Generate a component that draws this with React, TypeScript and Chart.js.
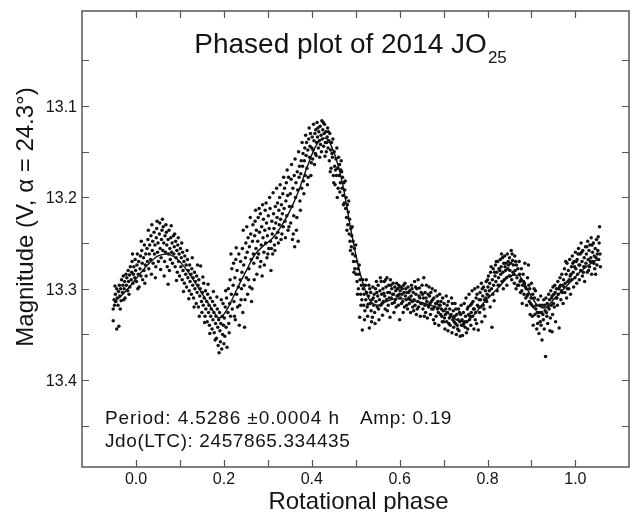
import React, { useEffect, useRef } from "react";
import { Chart, registerables } from "chart.js";

Chart.register(...registerables);

// ---- axis ticks ----
const xLabelValues = [0.0, 0.2, 0.4, 0.6, 0.8, 1.0];
const xTickValues = [0.0, 0.1, 0.2, 0.3, 0.4, 0.5, 0.6, 0.7, 0.8, 0.9, 1.0];
const yLabelValues = [13.1, 13.2, 13.3, 13.4];
const yTickValues = [13.05, 13.1, 13.15, 13.2, 13.25, 13.3, 13.35, 13.4, 13.45];

// ---- texts ----
const titleMain = "Phased plot of 2014 JO";
const titleSub = "25";
const periodText = "Period: 4.5286 ±0.0004 h";
const ampText = "Amp: 0.19";
const jdoText = "Jdo(LTC): 2457865.334435";
const xTitle = "Rotational phase";
const yTitle = "Magnitude (V, α = 24.3°)";

// ---- fitted curve ----
const fitPhase = [-0.05, -0.03, -0.01, 0.01, 0.03, 0.05, 0.07, 0.09, 0.11, 0.13, 0.15, 0.17, 0.19, 0.21, 0.23, 0.25, 0.27, 0.29, 0.31, 0.33, 0.35, 0.37, 0.39, 0.41, 0.43, 0.45, 0.47, 0.49, 0.51, 0.53, 0.55, 0.57, 0.59, 0.61, 0.63, 0.65, 0.67, 0.69, 0.71, 0.73, 0.75, 0.77, 0.79, 0.81, 0.83, 0.85, 0.87, 0.89, 0.91, 0.93, 0.95, 0.97, 0.99, 1.01, 1.03, 1.05];
const fitMag = [13.315, 13.306, 13.295, 13.283, 13.272, 13.264, 13.262, 13.266, 13.276, 13.29, 13.305, 13.32, 13.332, 13.32, 13.3, 13.281, 13.263, 13.253, 13.245, 13.232, 13.215, 13.193, 13.166, 13.143, 13.135, 13.15, 13.185, 13.238, 13.283, 13.311, 13.318, 13.314, 13.311, 13.311, 13.313, 13.315, 13.318, 13.321, 13.327, 13.334, 13.336, 13.328, 13.316, 13.306, 13.296, 13.286, 13.285, 13.3, 13.316, 13.321, 13.312, 13.302, 13.292, 13.282, 13.274, 13.268];

// ---- observations [phase, magnitude] ----
const obsA: [number, number][] = [[-0.052, 13.322], [-0.052, 13.335], [-0.05, 13.312], [-0.049, 13.318], [-0.047, 13.306], [-0.046, 13.314], [-0.044, 13.344], [-0.044, 13.3], [-0.043, 13.31], [-0.041, 13.318], [-0.04, 13.303], [-0.039, 13.341], [-0.038, 13.296], [-0.037, 13.308], [-0.035, 13.3], [-0.034, 13.313], [-0.033, 13.29], [-0.031, 13.304], [-0.03, 13.296], [-0.029, 13.286], [-0.027, 13.3], [-0.026, 13.292], [-0.025, 13.31], [-0.023, 13.284], [-0.022, 13.296], [-0.021, 13.288], [-0.019, 13.302], [-0.018, 13.28], [-0.017, 13.292], [-0.015, 13.285], [-0.014, 13.298], [-0.013, 13.276], [-0.011, 13.29], [-0.01, 13.282], [-0.009, 13.27], [-0.007, 13.294], [-0.006, 13.284], [-0.005, 13.276], [-0.003, 13.288], [-0.002, 13.268], [-0.001, 13.28]];

const obsB: [number, number][] = [[0.001, 13.292], [0.002, 13.274], [0.003, 13.262], [0.005, 13.284], [0.006, 13.27], [0.007, 13.298], [0.009, 13.278], [0.01, 13.264], [0.011, 13.286], [0.013, 13.258], [0.014, 13.272], [0.015, 13.29], [0.017, 13.266], [0.018, 13.28], [0.019, 13.252], [0.021, 13.274], [0.022, 13.262], [0.023, 13.286], [0.025, 13.256], [0.026, 13.27], [0.027, 13.246], [0.029, 13.278], [0.03, 13.262], [0.031, 13.252], [0.033, 13.268], [0.034, 13.242], [0.035, 13.284], [0.037, 13.258], [0.038, 13.248], [0.039, 13.272], [0.041, 13.238], [0.042, 13.262], [0.043, 13.252], [0.045, 13.276], [0.046, 13.244], [0.047, 13.234], [0.049, 13.26], [0.05, 13.25], [0.051, 13.27], [0.053, 13.24], [0.054, 13.228], [0.055, 13.256], [0.057, 13.266], [0.058, 13.246], [0.059, 13.236], [0.061, 13.258], [0.062, 13.232], [0.063, 13.25], [0.065, 13.27], [0.066, 13.242], [0.067, 13.26], [0.069, 13.238], [0.07, 13.252], [0.071, 13.276], [0.073, 13.295], [0.073, 13.246], [0.074, 13.262], [0.075, 13.236], [0.077, 13.256], [0.078, 13.268], [0.079, 13.244], [0.081, 13.26], [0.082, 13.25], [0.083, 13.272], [0.085, 13.242], [0.086, 13.262], [0.087, 13.254], [0.089, 13.276], [0.09, 13.248], [0.091, 13.266], [0.093, 13.258], [0.094, 13.282], [0.095, 13.252], [0.097, 13.27], [0.098, 13.262], [0.099, 13.286]];

const obsC: [number, number][] = [[0.101, 13.256], [0.102, 13.276], [0.103, 13.266], [0.105, 13.29], [0.106, 13.26], [0.107, 13.28], [0.109, 13.27], [0.11, 13.294], [0.111, 13.264], [0.113, 13.284], [0.114, 13.274], [0.115, 13.298], [0.117, 13.268], [0.118, 13.288], [0.119, 13.28], [0.121, 13.302], [0.122, 13.274], [0.123, 13.292], [0.125, 13.284], [0.126, 13.306], [0.127, 13.278], [0.129, 13.296], [0.13, 13.288], [0.131, 13.31], [0.133, 13.282], [0.134, 13.3], [0.135, 13.292], [0.137, 13.316], [0.138, 13.286], [0.139, 13.304], [0.141, 13.296], [0.142, 13.32], [0.143, 13.29], [0.145, 13.308], [0.146, 13.3], [0.147, 13.275], [0.149, 13.314], [0.15, 13.326], [0.151, 13.304], [0.153, 13.318], [0.154, 13.294], [0.155, 13.31], [0.157, 13.33], [0.158, 13.302], [0.159, 13.322], [0.161, 13.314], [0.162, 13.336], [0.163, 13.306], [0.165, 13.326], [0.166, 13.318], [0.167, 13.34], [0.169, 13.31], [0.17, 13.33], [0.171, 13.322], [0.173, 13.344], [0.174, 13.314], [0.175, 13.334], [0.177, 13.326], [0.178, 13.348], [0.179, 13.318], [0.181, 13.338], [0.182, 13.33], [0.183, 13.354], [0.185, 13.322], [0.186, 13.342], [0.187, 13.362], [0.188, 13.334], [0.189, 13.37], [0.19, 13.326], [0.191, 13.346], [0.192, 13.358], [0.193, 13.338], [0.195, 13.366], [0.196, 13.33], [0.197, 13.35], [0.198, 13.316], [0.199, 13.34]];

const obsD: [number, number][] = [[0.201, 13.332], [0.202, 13.352], [0.203, 13.32], [0.205, 13.342], [0.206, 13.31], [0.207, 13.364], [0.209, 13.326], [0.21, 13.3], [0.211, 13.338], [0.213, 13.316], [0.214, 13.29], [0.215, 13.33], [0.217, 13.306], [0.218, 13.278], [0.219, 13.322], [0.221, 13.296], [0.222, 13.272], [0.223, 13.314], [0.225, 13.288], [0.226, 13.334], [0.227, 13.268], [0.229, 13.306], [0.23, 13.28], [0.231, 13.32], [0.233, 13.298], [0.234, 13.262], [0.235, 13.34], [0.237, 13.29], [0.238, 13.27], [0.239, 13.312], [0.241, 13.282], [0.242, 13.256], [0.243, 13.326], [0.245, 13.274], [0.246, 13.296], [0.247, 13.342], [0.249, 13.266], [0.25, 13.25], [0.251, 13.288], [0.253, 13.26], [0.254, 13.306], [0.255, 13.244], [0.257, 13.278], [0.258, 13.254], [0.259, 13.298], [0.261, 13.24], [0.262, 13.268], [0.263, 13.314], [0.265, 13.248], [0.266, 13.23], [0.267, 13.262], [0.269, 13.29], [0.27, 13.242], [0.271, 13.226], [0.273, 13.256], [0.274, 13.236], [0.275, 13.284], [0.277, 13.248], [0.278, 13.222], [0.279, 13.262], [0.281, 13.238], [0.282, 13.276], [0.283, 13.218], [0.285, 13.252], [0.286, 13.232], [0.287, 13.286], [0.289, 13.244], [0.29, 13.224], [0.291, 13.26], [0.293, 13.236], [0.294, 13.214], [0.295, 13.25], [0.297, 13.228], [0.298, 13.266], [0.299, 13.242], [0.301, 13.22], [0.302, 13.256], [0.303, 13.234], [0.305, 13.212], [0.306, 13.248], [0.307, 13.28], [0.309, 13.226], [0.31, 13.24], [0.311, 13.262], [0.313, 13.218], [0.314, 13.234], [0.315, 13.252], [0.317, 13.21], [0.318, 13.228], [0.319, 13.244], [0.321, 13.222], [0.322, 13.206], [0.323, 13.238], [0.325, 13.214], [0.326, 13.23], [0.327, 13.2], [0.329, 13.224], [0.33, 13.246], [0.331, 13.208], [0.333, 13.218], [0.334, 13.196], [0.335, 13.232], [0.337, 13.212], [0.338, 13.19], [0.339, 13.226], [0.341, 13.204], [0.342, 13.184], [0.343, 13.22], [0.345, 13.198], [0.346, 13.236], [0.347, 13.178], [0.349, 13.21]];

const obsE: [number, number][] = [[0.351, 13.196], [0.352, 13.228], [0.353, 13.18], [0.355, 13.21], [0.356, 13.246], [0.357, 13.19], [0.359, 13.22], [0.36, 13.176], [0.361, 13.254], [0.363, 13.2], [0.364, 13.184], [0.365, 13.236], [0.367, 13.172], [0.368, 13.192], [0.369, 13.248], [0.371, 13.178], [0.372, 13.166], [0.373, 13.204], [0.375, 13.174], [0.376, 13.16], [0.377, 13.19], [0.379, 13.166], [0.38, 13.152], [0.381, 13.182], [0.383, 13.16], [0.384, 13.146], [0.385, 13.176], [0.387, 13.154], [0.388, 13.14], [0.389, 13.168], [0.391, 13.148], [0.392, 13.178], [0.393, 13.136], [0.395, 13.156], [0.396, 13.144], [0.397, 13.13], [0.399, 13.162], [0.4, 13.146], [0.401, 13.134], [0.403, 13.148], [0.404, 13.12], [0.405, 13.138], [0.407, 13.13], [0.408, 13.152], [0.409, 13.126], [0.411, 13.14], [0.412, 13.118], [0.413, 13.134], [0.415, 13.146], [0.416, 13.128], [0.417, 13.138], [0.419, 13.122], [0.42, 13.142], [0.421, 13.132], [0.423, 13.116], [0.424, 13.136], [0.425, 13.126], [0.427, 13.144], [0.428, 13.13], [0.429, 13.12], [0.431, 13.14], [0.432, 13.128], [0.433, 13.15], [0.435, 13.134], [0.436, 13.124], [0.437, 13.146], [0.439, 13.138], [0.44, 13.16], [0.441, 13.13], [0.443, 13.148], [0.444, 13.168], [0.445, 13.14], [0.447, 13.156], [0.448, 13.136], [0.449, 13.176], [0.451, 13.15], [0.452, 13.166], [0.453, 13.186], [0.455, 13.158], [0.456, 13.176], [0.457, 13.146], [0.459, 13.168], [0.46, 13.19]];

const obsF: [number, number][] = [[0.461, 13.156], [0.462, 13.176], [0.463, 13.164], [0.465, 13.184], [0.466, 13.17], [0.467, 13.16], [0.469, 13.19], [0.47, 13.178], [0.471, 13.198], [0.473, 13.184], [0.474, 13.206], [0.475, 13.192], [0.477, 13.212], [0.478, 13.2], [0.479, 13.222], [0.481, 13.208], [0.482, 13.23], [0.483, 13.216], [0.485, 13.24], [0.486, 13.224], [0.487, 13.248], [0.489, 13.234], [0.49, 13.254], [0.491, 13.242], [0.493, 13.262], [0.494, 13.248], [0.495, 13.27], [0.497, 13.256], [0.498, 13.278], [0.499, 13.264], [0.501, 13.284], [0.502, 13.27], [0.503, 13.292], [0.505, 13.278], [0.506, 13.3], [0.507, 13.284], [0.509, 13.331], [0.51, 13.29], [0.511, 13.306], [0.513, 13.296], [0.514, 13.312], [0.515, 13.345], [0.517, 13.3], [0.518, 13.318], [0.519, 13.306], [0.521, 13.324], [0.522, 13.296], [0.523, 13.312], [0.525, 13.304], [0.526, 13.32], [0.527, 13.33], [0.529, 13.308], [0.53, 13.296], [0.531, 13.343], [0.533, 13.316], [0.534, 13.304], [0.535, 13.324], [0.537, 13.312], [0.538, 13.331], [0.539, 13.298], [0.541, 13.318], [0.542, 13.306], [0.543, 13.326], [0.545, 13.3], [0.546, 13.314], [0.547, 13.292], [0.549, 13.32], [0.55, 13.308], [0.551, 13.296], [0.553, 13.334], [0.554, 13.312], [0.555, 13.302], [0.557, 13.318], [0.558, 13.292], [0.559, 13.306]];

const obsG: [number, number][] = [[0.561, 13.329], [0.562, 13.3], [0.563, 13.314], [0.565, 13.292], [0.566, 13.308], [0.567, 13.322], [0.569, 13.298], [0.57, 13.312], [0.571, 13.288], [0.573, 13.304], [0.574, 13.318], [0.575, 13.296], [0.577, 13.304], [0.578, 13.331], [0.579, 13.29], [0.581, 13.31], [0.582, 13.3], [0.583, 13.316], [0.585, 13.294], [0.586, 13.306], [0.587, 13.326], [0.589, 13.298], [0.59, 13.312], [0.591, 13.302], [0.593, 13.294], [0.594, 13.308], [0.595, 13.3], [0.597, 13.318], [0.598, 13.296], [0.599, 13.306], [0.6, 13.334], [0.601, 13.302], [0.602, 13.31], [0.603, 13.298], [0.605, 13.306], [0.606, 13.3], [0.607, 13.314], [0.609, 13.296], [0.61, 13.304], [0.611, 13.32], [0.613, 13.308], [0.614, 13.3], [0.615, 13.312], [0.617, 13.304], [0.618, 13.322], [0.619, 13.298], [0.621, 13.31], [0.622, 13.316], [0.623, 13.302], [0.625, 13.326], [0.626, 13.308], [0.627, 13.296], [0.629, 13.314], [0.63, 13.32], [0.631, 13.304], [0.633, 13.312], [0.634, 13.292], [0.635, 13.318], [0.637, 13.306], [0.638, 13.328], [0.639, 13.3], [0.641, 13.314], [0.642, 13.29], [0.643, 13.32], [0.645, 13.299], [0.646, 13.31], [0.647, 13.33], [0.649, 13.304], [0.65, 13.316], [0.651, 13.296], [0.653, 13.322], [0.654, 13.31], [0.655, 13.288], [0.657, 13.318], [0.658, 13.304], [0.659, 13.326], [0.661, 13.296], [0.662, 13.314], [0.663, 13.332], [0.665, 13.306], [0.666, 13.32], [0.667, 13.298], [0.669, 13.316], [0.67, 13.328], [0.671, 13.304], [0.673, 13.322], [0.674, 13.3], [0.675, 13.312], [0.677, 13.334], [0.678, 13.31], [0.679, 13.32], [0.681, 13.302], [0.682, 13.316], [0.683, 13.33], [0.685, 13.308], [0.686, 13.322], [0.687, 13.314], [0.689, 13.34], [0.69, 13.318], [0.691, 13.306], [0.693, 13.328], [0.694, 13.314], [0.695, 13.322], [0.697, 13.336], [0.698, 13.31], [0.699, 13.324]];

const obsH: [number, number][] = [[0.701, 13.316], [0.702, 13.332], [0.703, 13.344], [0.705, 13.322], [0.706, 13.308], [0.707, 13.336], [0.709, 13.326], [0.71, 13.346], [0.711, 13.314], [0.713, 13.332], [0.714, 13.322], [0.715, 13.34], [0.717, 13.328], [0.718, 13.31], [0.719, 13.348], [0.721, 13.334], [0.722, 13.324], [0.723, 13.342], [0.725, 13.33], [0.726, 13.316], [0.727, 13.338], [0.729, 13.35], [0.73, 13.328], [0.731, 13.34], [0.733, 13.334], [0.734, 13.322], [0.735, 13.346], [0.737, 13.336], [0.738, 13.352], [0.739, 13.328], [0.741, 13.34], [0.742, 13.334], [0.743, 13.351], [0.745, 13.326], [0.746, 13.338], [0.747, 13.316], [0.749, 13.342], [0.75, 13.33], [0.751, 13.31], [0.753, 13.336], [0.754, 13.322], [0.755, 13.344], [0.757, 13.328], [0.758, 13.306], [0.759, 13.334], [0.761, 13.318], [0.762, 13.34], [0.763, 13.326], [0.765, 13.302], [0.766, 13.33], [0.767, 13.314], [0.769, 13.344], [0.77, 13.322], [0.771, 13.3], [0.773, 13.326], [0.774, 13.31], [0.775, 13.338], [0.777, 13.318], [0.778, 13.298], [0.779, 13.345], [0.781, 13.312], [0.782, 13.326], [0.783, 13.304], [0.785, 13.32], [0.786, 13.294], [0.787, 13.336], [0.789, 13.308], [0.79, 13.318], [0.791, 13.298], [0.793, 13.312], [0.794, 13.33], [0.795, 13.302], [0.797, 13.292], [0.798, 13.314], [0.799, 13.306]];

const obsI: [number, number][] = [[0.801, 13.298], [0.802, 13.286], [0.803, 13.308], [0.805, 13.294], [0.806, 13.32], [0.807, 13.282], [0.809, 13.3], [0.81, 13.342], [0.811, 13.29], [0.813, 13.278], [0.814, 13.296], [0.815, 13.313], [0.817, 13.286], [0.818, 13.274], [0.819, 13.292], [0.821, 13.282], [0.822, 13.302], [0.823, 13.27], [0.825, 13.288], [0.826, 13.278], [0.827, 13.296], [0.829, 13.268], [0.83, 13.284], [0.831, 13.276], [0.833, 13.292], [0.834, 13.266], [0.835, 13.282], [0.837, 13.272], [0.838, 13.29], [0.839, 13.264], [0.841, 13.28], [0.842, 13.272], [0.843, 13.288], [0.845, 13.262], [0.846, 13.278], [0.847, 13.27], [0.849, 13.286], [0.85, 13.266], [0.851, 13.28], [0.853, 13.272], [0.854, 13.258], [0.855, 13.29], [0.857, 13.269], [0.858, 13.282], [0.859, 13.274], [0.861, 13.294], [0.862, 13.264], [0.863, 13.28], [0.865, 13.3], [0.866, 13.274], [0.867, 13.288], [0.869, 13.278]];

const obsJ: [number, number][] = [[0.871, 13.296], [0.872, 13.27], [0.873, 13.284], [0.875, 13.304], [0.876, 13.29], [0.877, 13.278], [0.879, 13.316], [0.88, 13.296], [0.881, 13.284], [0.883, 13.306], [0.884, 13.294], [0.885, 13.272], [0.887, 13.31], [0.888, 13.3], [0.889, 13.318], [0.891, 13.288], [0.892, 13.306], [0.893, 13.274], [0.895, 13.314], [0.896, 13.3], [0.897, 13.328], [0.899, 13.31], [0.9, 13.294], [0.901, 13.318], [0.903, 13.306], [0.904, 13.34], [0.905, 13.32], [0.907, 13.31], [0.908, 13.328], [0.909, 13.302], [0.911, 13.318], [0.912, 13.344], [0.913, 13.326], [0.915, 13.312], [0.916, 13.33], [0.917, 13.349], [0.919, 13.318], [0.92, 13.336], [0.921, 13.308], [0.923, 13.326], [0.924, 13.356], [0.925, 13.318], [0.927, 13.334], [0.928, 13.312], [0.929, 13.344], [0.931, 13.324], [0.932, 13.374], [0.933, 13.31], [0.935, 13.33], [0.936, 13.316], [0.937, 13.338], [0.939, 13.306], [0.94, 13.322], [0.941, 13.312], [0.943, 13.332], [0.944, 13.302], [0.945, 13.318], [0.947, 13.308], [0.947, 13.347], [0.948, 13.328], [0.949, 13.298]];

const obsK: [number, number][] = [[0.951, 13.306], [0.952, 13.32], [0.953, 13.296], [0.955, 13.336], [0.956, 13.31], [0.957, 13.3], [0.959, 13.318], [0.96, 13.292], [0.961, 13.306], [0.963, 13.343], [0.964, 13.298], [0.965, 13.288], [0.967, 13.312], [0.968, 13.302], [0.969, 13.284], [0.971, 13.296], [0.972, 13.316], [0.973, 13.29], [0.975, 13.278], [0.976, 13.304], [0.977, 13.294], [0.979, 13.284], [0.98, 13.31], [0.981, 13.272], [0.983, 13.292], [0.984, 13.28], [0.985, 13.3], [0.987, 13.268], [0.988, 13.286], [0.989, 13.306], [0.991, 13.276], [0.992, 13.29], [0.993, 13.264], [0.995, 13.282], [0.996, 13.298], [0.997, 13.27], [0.999, 13.288], [1.0, 13.26], [1.001, 13.278], [1.003, 13.294], [1.004, 13.268], [1.005, 13.284], [1.007, 13.256], [1.008, 13.274], [1.009, 13.29], [1.011, 13.262], [1.012, 13.28], [1.013, 13.25], [1.015, 13.27], [1.016, 13.286], [1.017, 13.258], [1.019, 13.276], [1.02, 13.266], [1.021, 13.292], [1.023, 13.254], [1.024, 13.272], [1.025, 13.262], [1.027, 13.282], [1.028, 13.248], [1.029, 13.268], [1.031, 13.258], [1.032, 13.276], [1.033, 13.252], [1.035, 13.266], [1.036, 13.244], [1.037, 13.284], [1.039, 13.26], [1.04, 13.27], [1.041, 13.25], [1.043, 13.264], [1.044, 13.278], [1.045, 13.256], [1.047, 13.266], [1.048, 13.246], [1.049, 13.274], [1.051, 13.258], [1.052, 13.243], [1.053, 13.268], [1.055, 13.232], [1.056, 13.262], [1.057, 13.276]];

const obsL: [number, number][] = [[-0.048, 13.297], [-0.036, 13.322], [-0.028, 13.312], [-0.016, 13.306], [-0.008, 13.262], [0.004, 13.3], [0.012, 13.248], [0.02, 13.294], [0.028, 13.236], [0.036, 13.23], [0.044, 13.288], [0.048, 13.226], [0.056, 13.279], [0.06, 13.224], [0.064, 13.286], [0.068, 13.23], [0.076, 13.28], [0.08, 13.231], [0.088, 13.24], [0.092, 13.291], [0.096, 13.244], [0.104, 13.25], [0.108, 13.303], [0.116, 13.258], [0.12, 13.311], [0.128, 13.266], [0.132, 13.32], [0.14, 13.274], [0.144, 13.33], [0.152, 13.287], [0.156, 13.337], [0.164, 13.295], [0.168, 13.349], [0.176, 13.303], [0.18, 13.356], [0.184, 13.309], [0.194, 13.312], [0.2, 13.36], [0.204, 13.302], [0.212, 13.348], [0.216, 13.262], [0.224, 13.33], [0.228, 13.255], [0.236, 13.318], [0.24, 13.3], [0.244, 13.236], [0.248, 13.312], [0.252, 13.232], [0.256, 13.29], [0.26, 13.222], [0.264, 13.3], [0.268, 13.272], [0.272, 13.214], [0.276, 13.266], [0.28, 13.212], [0.284, 13.27], [0.288, 13.208], [0.292, 13.274], [0.296, 13.206], [0.3, 13.262], [0.304, 13.2], [0.308, 13.256], [0.312, 13.195], [0.316, 13.258], [0.32, 13.19], [0.324, 13.25], [0.328, 13.186], [0.332, 13.24], [0.336, 13.178], [0.34, 13.244], [0.344, 13.17], [0.348, 13.232], [0.354, 13.164], [0.358, 13.24], [0.362, 13.158], [0.366, 13.222], [0.37, 13.15], [0.374, 13.214], [0.378, 13.14], [0.382, 13.196], [0.386, 13.132], [0.39, 13.186], [0.394, 13.124], [0.398, 13.176], [0.402, 13.158], [0.406, 13.164], [0.41, 13.154], [0.414, 13.124], [0.418, 13.156], [0.422, 13.15], [0.426, 13.118], [0.43, 13.155], [0.434, 13.14], [0.438, 13.128], [0.442, 13.172], [0.446, 13.152], [0.45, 13.184], [0.454, 13.17], [0.458, 13.2], [0.464, 13.194], [0.468, 13.172], [0.472, 13.208], [0.476, 13.182], [0.48, 13.236], [0.484, 13.204], [0.488, 13.258], [0.492, 13.232], [0.496, 13.282], [0.5, 13.252], [0.504, 13.306], [0.508, 13.274], [0.512, 13.318], [0.516, 13.29], [0.52, 13.334], [0.524, 13.29], [0.528, 13.317], [0.532, 13.3], [0.536, 13.336], [0.54, 13.31], [0.544, 13.338], [0.548, 13.304], [0.552, 13.322], [0.556, 13.288], [0.56, 13.316], [0.564, 13.305], [0.568, 13.29], [0.572, 13.324], [0.576, 13.31], [0.58, 13.296], [0.584, 13.306], [0.588, 13.315], [0.592, 13.32], [0.596, 13.308], [0.6, 13.298], [0.604, 13.316], [0.608, 13.326], [0.612, 13.294], [0.616, 13.318], [0.62, 13.304], [0.624, 13.312], [0.628, 13.3], [0.632, 13.324], [0.636, 13.298], [0.64, 13.322], [0.644, 13.308], [0.648, 13.316], [0.652, 13.306], [0.656, 13.33], [0.66, 13.31], [0.664, 13.318], [0.668, 13.308], [0.672, 13.314], [0.676, 13.322], [0.68, 13.338], [0.684, 13.316], [0.688, 13.326], [0.692, 13.318], [0.696, 13.33], [0.7, 13.336], [0.704, 13.328], [0.708, 13.318], [0.712, 13.338], [0.716, 13.33], [0.72, 13.316], [0.724, 13.336], [0.728, 13.322], [0.732, 13.344], [0.736, 13.326], [0.74, 13.318], [0.744, 13.34], [0.748, 13.336], [0.752, 13.348], [0.756, 13.32], [0.76, 13.33], [0.764, 13.316], [0.768, 13.322], [0.772, 13.334], [0.776, 13.306], [0.78, 13.32], [0.784, 13.312], [0.788, 13.3], [0.792, 13.322], [0.796, 13.31], [0.8, 13.29], [0.804, 13.302], [0.808, 13.276], [0.812, 13.306], [0.816, 13.282], [0.82, 13.27], [0.824, 13.296], [0.828, 13.28], [0.832, 13.262], [0.836, 13.3], [0.84, 13.276], [0.844, 13.296], [0.848, 13.274], [0.852, 13.286], [0.856, 13.262], [0.86, 13.284], [0.864, 13.27], [0.868, 13.296], [0.874, 13.292], [0.878, 13.302], [0.882, 13.292], [0.886, 13.298], [0.89, 13.308], [0.894, 13.296], [0.898, 13.316], [0.902, 13.33], [0.906, 13.3], [0.91, 13.322], [0.914, 13.338], [0.918, 13.326], [0.922, 13.34], [0.926, 13.328], [0.93, 13.318], [0.934, 13.326], [0.938, 13.32], [0.942, 13.346], [0.946, 13.31], [0.95, 13.316], [0.954, 13.304], [0.958, 13.31], [0.962, 13.3], [0.966, 13.296], [0.97, 13.304], [0.974, 13.298], [0.978, 13.27], [0.982, 13.3], [0.986, 13.29], [0.99, 13.284], [0.994, 13.272], [0.998, 13.276], [1.002, 13.27], [1.006, 13.262], [1.01, 13.274], [1.014, 13.26], [1.018, 13.282], [1.022, 13.276], [1.026, 13.254], [1.03, 13.28], [1.034, 13.27], [1.038, 13.252], [1.042, 13.272], [1.046, 13.284], [1.05, 13.262], [1.054, 13.25]];

const FONT = '"Liberation Sans", Arial, Helvetica, sans-serif';
const TEXT = "#141414";
const FRAME = "#555555";

const obsAll = [obsA, obsB, obsC, obsD, obsE, obsF, obsG, obsH, obsI, obsJ, obsK, obsL]
  .flat()
  .map(([x, y]) => ({ x, y }));
const fitPoints = fitPhase.map((x, i) => ({ x, y: fitMag[i] }));

const decorPlugin = {
  id: "decor",
  afterDatasetsDraw(chart: any) {
    const { ctx, chartArea: a, scales } = chart;
    ctx.save();
    // frame
    ctx.strokeStyle = FRAME;
    ctx.lineWidth = 1.5;
    ctx.strokeRect(a.left, a.top, a.right - a.left, a.bottom - a.top);
    // inward ticks
    ctx.lineWidth = 1.2;
    ctx.beginPath();
    xTickValues.forEach((v) => {
      const px = Math.round(scales.x.getPixelForValue(v)) + 0.5;
      ctx.moveTo(px, a.top);
      ctx.lineTo(px, a.top + 7);
      ctx.moveTo(px, a.bottom);
      ctx.lineTo(px, a.bottom - 7);
    });
    yTickValues.forEach((v) => {
      const py = Math.round(scales.y.getPixelForValue(v)) + 0.5;
      ctx.moveTo(a.left, py);
      ctx.lineTo(a.left + 7, py);
      ctx.moveTo(a.right, py);
      ctx.lineTo(a.right - 7, py);
    });
    ctx.stroke();

    ctx.fillStyle = TEXT;
    ctx.textBaseline = "alphabetic";

    // tick labels
    ctx.font = `16px ${FONT}`;
    ctx.textAlign = "center";
    xLabelValues.forEach((v) => {
      ctx.fillText(v.toFixed(1), scales.x.getPixelForValue(v), a.bottom + 17);
    });
    ctx.textAlign = "right";
    yLabelValues.forEach((v) => {
      ctx.fillText(v.toFixed(1), a.left - 5, scales.y.getPixelForValue(v) + 6);
    });

    // x axis title
    ctx.font = `24px ${FONT}`;
    ctx.textAlign = "center";
    ctx.fillText(xTitle, (a.left + a.right) / 2 + 3, a.bottom + 42);

    // title with subscript
    ctx.textAlign = "left";
    ctx.font = `28px ${FONT}`;
    const wMain = ctx.measureText(titleMain).width;
    ctx.font = `17px ${FONT}`;
    const wSub = ctx.measureText(titleSub).width;
    const cx = a.left + (a.right - a.left) * 0.49;
    const tx = cx - (wMain + wSub) / 2;
    ctx.font = `28px ${FONT}`;
    ctx.fillText(titleMain, tx, a.top + 42);
    ctx.font = `17px ${FONT}`;
    ctx.fillText(titleSub, tx + wMain + 1, a.top + 52);

    // annotations
    ctx.font = `19px ${FONT}`;
    (ctx as any).letterSpacing = "0.9px";
    ctx.fillText(periodText, a.left + 23, a.bottom - 43);
    (ctx as any).letterSpacing = "0.6px";
    ctx.fillText(ampText, a.left + 278, a.bottom - 43);
    ctx.fillText(jdoText, a.left + 23, a.bottom - 20);
    (ctx as any).letterSpacing = "0px";

    // y axis title (rotated)
    ctx.font = `24px ${FONT}`;
    ctx.textAlign = "center";
    ctx.translate(33, 217);
    ctx.rotate(-Math.PI / 2);
    ctx.fillText(yTitle, 0, 0);
    ctx.restore();
  },
};

export default function App() {
  const ref = useRef<HTMLCanvasElement | null>(null);
  useEffect(() => {
    if (!ref.current) return;
    const chart = new Chart(ref.current, {
      type: "scatter",
      data: {
        datasets: [
          {
            label: "obs",
            data: obsAll,
            pointRadius: 1.75,
            pointBorderWidth: 0,
            pointBackgroundColor: "#111111",
            pointBorderColor: "#111111",
            showLine: false,
            order: 2,
          } as any,
          {
            label: "fit",
            data: fitPoints,
            showLine: true,
            pointRadius: 0,
            borderColor: "#111111",
            borderWidth: 1.4,
            cubicInterpolationMode: "monotone",
            order: 1,
          } as any,
        ],
      },
      options: {
        animation: false,
        responsive: false,
        devicePixelRatio: 1,
        layout: { padding: { left: 0, right: 3, top: 11, bottom: 0 } },
        plugins: {
          legend: { display: false },
          tooltip: { enabled: false },
          title: { display: false },
        },
        scales: {
          x: {
            type: "linear",
            position: "bottom",
            min: -0.123,
            max: 1.122,
            grid: { display: false },
            border: { display: false },
            ticks: { display: false },
            afterFit: (s: any) => {
              s.height = 45;
            },
            title: { display: false },
          },
          y: {
            type: "linear",
            reverse: true,
            min: 12.996,
            max: 13.495,
            grid: { display: false },
            border: { display: false },
            ticks: { display: false },
            afterFit: (s: any) => {
              s.width = 82;
            },
            title: { display: false },
          },
        },
      },
      plugins: [decorPlugin],
    });
    return () => chart.destroy();
  }, []);

  return (
    <div style={{ position: "absolute", left: 0, top: 0, width: 633, height: 512, background: "#ffffff" }}>
      <canvas ref={ref} width={633} height={512} style={{ display: "block" }} />
    </div>
  );
}
